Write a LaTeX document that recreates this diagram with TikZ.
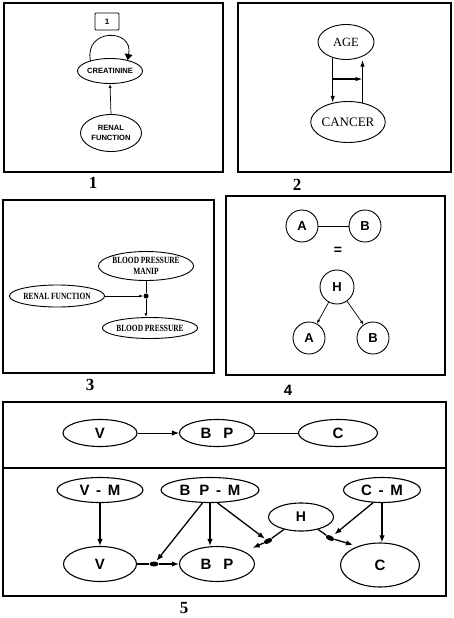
\documentclass[tikz,border=0pt]{standalone}
\usepackage{fontspec}
\setmainfont{Liberation Serif}
\setsansfont{Liberation Sans}
\usetikzlibrary{shapes.geometric,arrows.meta,calc}
\newcommand\fsz[2]{\fontsize{#1}{#2}\selectfont}
\newcommand\cnd[1]{\scalebox{0.78}[1]{#1}}
\begin{document}
\begin{tikzpicture}[x=1pt,y=-1pt,
  frame/.style={draw,line width=1.4pt},
  ell/.style={ellipse,draw,line width=0.9pt,inner sep=0pt},
  circ/.style={circle,draw,line width=0.9pt,inner sep=0pt,minimum size=32,font=\sffamily\bfseries\fsz{13}{14}},
  lab/.style={font=\bfseries\fsz{17}{18}},
  thin arr/.style={line width=0.7pt,-{Latex[length=4pt,width=3pt]}},
  thk/.style={line width=1.3pt},
  thk arr/.style={line width=1.3pt,-{Latex[length=7pt,width=4.5pt]}},
  big arr/.style={line width=1.3pt,-{Latex[length=7pt,width=5.5pt]}},
  dotnode/.style={ellipse,fill,inner sep=0pt,minimum width=9,minimum height=5},
  p5/.style={ell,line width=1.1pt,font=\sffamily\bfseries\fsz{15}{16}}]
\useasboundingbox (0,0) rectangle (453,618);
\fill[white] (0,0) rectangle (453,618);

% ---------- Panel 1
\draw[frame] (4,3) rectangle (223,172);
\node[draw,line width=0.8pt,rounded corners=1pt,minimum width=24,minimum height=17,
      inner sep=0pt,font=\sffamily\bfseries\fsz{8}{9}] (one) at (107,21.5) {1};
\node[ell,minimum width=65,minimum height=25,font=\sffamily\bfseries\fsz{7.6}{8}] (crt) at (110,71) {CREATININE};
\node[ell,minimum width=61,minimum height=37,align=center,font=\sffamily\bfseries\fsz{7.6}{10}] (ren1) at (111,133) {RENAL\\FUNCTION};
\draw[thin arr] (ren1.north) -- (crt.south);
\draw[line width=0.8pt,-{Triangle[length=6pt,width=8pt]}] (crt.152) .. controls (84,28) and (134,28) .. (crt.32);
\node[lab] (l1) at (93,183) {1};

% ---------- Panel 2
\draw[frame] (238,3) rectangle (451,172);
\node[ell,minimum width=56,minimum height=35,font=\fsz{12.5}{13}] (age) at (346,42) {AGE};
\node[ell,minimum width=72,minimum height=41,font=\fsz{13}{14}] (cancer) at (348,122) {CANCER};
\draw[thk arr] (age.230) -- (age.230 |- cancer.129);
\draw[thk arr] (cancer.53) -- ($(cancer.53 |- age.318)+(0,3)$);
\coordinate (hl) at ($(age.230)!0.47!(age.230 |- cancer.129)$);
\draw[thk arr] (hl) -- (hl -| cancer.53);
\node[lab] (l2) at (297,185) {2};

% ---------- Panel 3
\draw[frame] (3,200) rectangle (214,373);
\node[ell,minimum width=80,minimum height=29,align=center,font=\bfseries\fsz{9.5}{11}] (manip) at (146,266) {\cnd{BLOOD PRESSURE}\\\cnd{MANIP}};
\node[ell,minimum width=87,minimum height=22,font=\bfseries\fsz{9.5}{11}] (ren3) at (57,296) {\cnd{RENAL FUNCTION}};
\node[ell,minimum width=87,minimum height=21,font=\bfseries\fsz{9.5}{11}] (bp3) at (150,328) {\cnd{BLOOD PRESSURE}};
\node[circle,fill,inner sep=0pt,minimum size=5] (dt3) at (146,296) {};
\draw[thin arr,line width=0.9pt] (ren3.east) -- (dt3.west);
\draw[line width=0.9pt] (manip.south) -- (dt3);
\draw[thin arr,line width=0.9pt] (dt3) -- (dt3 |- bp3.north);
\node[lab] (l3) at (90,385) {3};

% ---------- Panel 4
\draw[frame] (226,196) rectangle (445,375);
\node[circ] (a1) at (302,226) {A};
\node[circ] (b1) at (365,226) {B};
\draw[line width=0.9pt] (a1) -- (b1);
\node[font=\sffamily\bfseries\fsz{14}{15}] (eq) at (338,251) {=};
\node[circ,minimum size=34] (h4) at (337,287) {H};
\node[circ] (a2) at (309,338) {A};
\node[circ] (b2) at (373,338) {B};
\draw[thin arr] (h4) -- (a2);
\draw[thin arr] (h4) -- (b2);
\node[font=\sffamily\bfseries\fsz{15}{16}] (l4) at (288,390) {4};

% ---------- Panel 5
\draw[frame] (3,402) rectangle (446,596);
\draw[frame] (3,468) -- (446,468);
% top
\node[p5,minimum width=74,minimum height=27] (v1) at (100,433) {V};
\node[p5,minimum width=75,minimum height=27] (bpa) at (217,433) {B\hspace{0.8em}P};
\node[p5,minimum width=79,minimum height=27] (c1) at (338,433) {C};
\draw[big arr,line width=1pt] (v1) -- (bpa);
\draw[line width=1pt] (bpa) -- (c1);
% bottom
\node[p5,minimum width=86,minimum height=25] (vm) at (100,490) {V\hspace{0.45em}-\hspace{0.45em}M};
\node[p5,minimum width=98,minimum height=25] (bpm) at (210,490) {B\hspace{0.6em}P\hspace{0.45em}-\hspace{0.45em}M};
\node[p5,minimum width=77,minimum height=25] (cm) at (382,490) {C\hspace{0.45em}-\hspace{0.45em}M};
\node[p5,minimum width=65,minimum height=28,font=\sffamily\bfseries\fsz{14}{15}] (h5) at (301,517) {H};
\node[p5,minimum width=73,minimum height=35] (v2) at (100,564) {V};
\node[p5,minimum width=75,minimum height=35] (bp2) at (217,564) {B\hspace{0.8em}P};
\node[p5,minimum width=79,minimum height=44] (c2) at (380,565) {C};
\node[dotnode] (d1) at (154,564) {};
\node[dotnode,rotate=25] (d2) at (268,541) {};
\node[dotnode,rotate=-25] (d3) at (330,538) {};
\draw[big arr] (vm.south) -- (vm.south |- v2.north);
\draw[big arr] (bpm.south) -- (bpm.south |- bp2.north);
\draw[big arr] (cm.south) -- (cm.south |- c2.north);
\draw[big arr,shorten >=1pt] (bpm.240) -- (d1);
\draw[thk] (v2.east) -- (d1);
\draw[big arr] (d1) -- (bp2.west);
\draw[big arr,shorten >=1pt] (bpm.300) -- (d2);
\draw[thk] (h5) -- (d2);
\draw[big arr,shorten >=9pt] (d2) -- (bp2);
\draw[thk] (h5) -- (d3);
\draw[big arr,shorten >=5pt] (d3) -- (c2.140);
\draw[big arr,shorten >=3pt] (cm.235) -- (d3);
\node[lab] (l5) at (184,608) {5};
\end{tikzpicture}
\end{document}
